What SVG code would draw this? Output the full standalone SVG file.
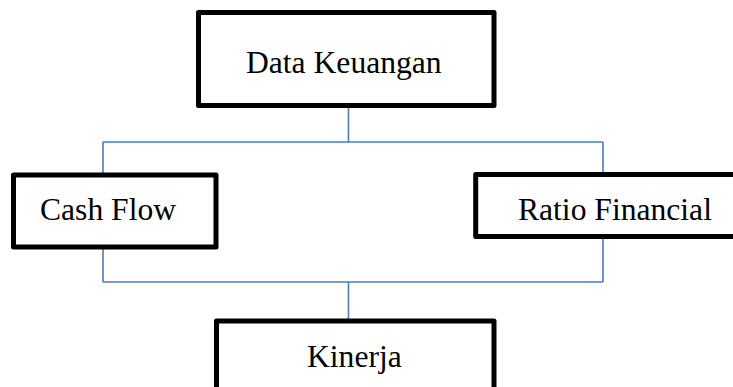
<svg xmlns="http://www.w3.org/2000/svg" width="733" height="387" viewBox="0 0 733 387">
<style>
.box{fill:#fff;stroke:#000;stroke-width:5;stroke-linejoin:round}
.lbl{font-family:"Liberation Serif","Times New Roman",serif;font-size:31.6px;fill:#000}
.conn{fill:none;stroke:#4A7EBB;stroke-width:1.6}
</style>
<rect width="733" height="387" fill="#fff"/>
<g id="connectors">
<path class="conn" d="M348.5,106 V142 M103,142 H603 M103,142 V175 M603,142 V174.5"/>
<path class="conn" d="M103,247 V282 M603,236.5 V282 M103,282 H603 M348.5,282 V321"/>
</g>
<g id="node-data-keuangan">
<rect class="box" x="198.5" y="12.5" width="295.5" height="93"/>
<text class="lbl" x="246" y="73">Data Keuangan</text>
</g>
<g id="node-cash-flow">
<rect class="box" x="13.5" y="175" width="202.5" height="72"/>
<text class="lbl" x="40" y="220">Cash Flow</text>
</g>
<g id="node-ratio-financial">
<rect class="box" x="475.7" y="174.5" width="270" height="62"/>
<text class="lbl" x="518" y="220">Ratio Financial</text>
</g>
<g id="node-kinerja">
<rect class="box" x="216.5" y="321" width="277.5" height="80"/>
<text class="lbl" x="307" y="366.5">Kinerja</text>
</g>
</svg>
